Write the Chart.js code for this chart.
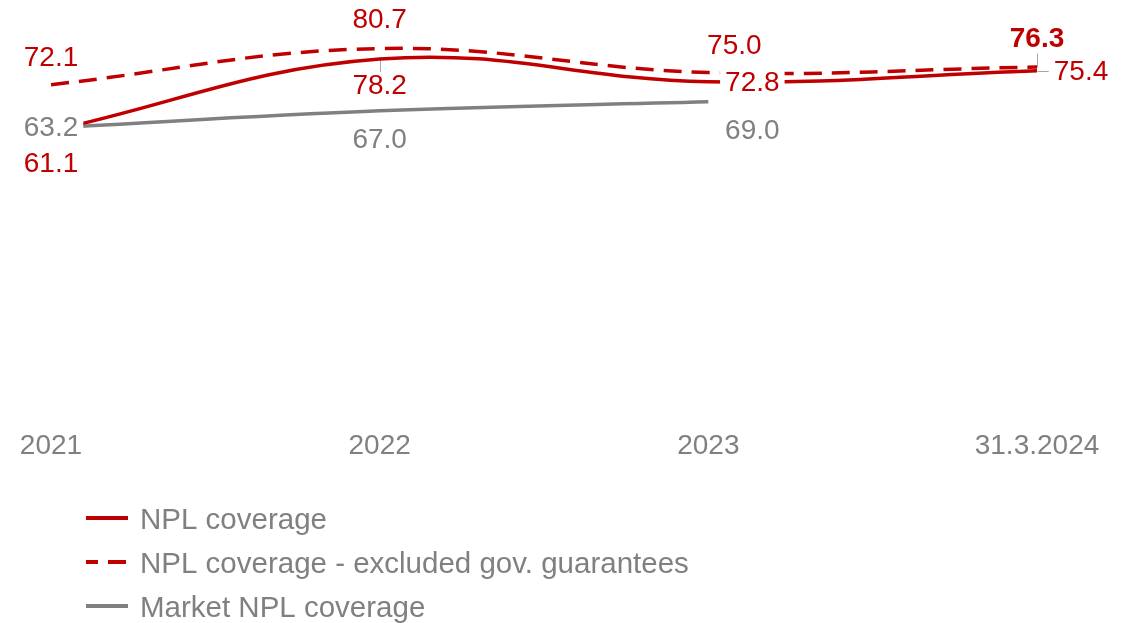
<!DOCTYPE html>
<html>
<head>
<meta charset="utf-8">
<script src="https://cdn.jsdelivr.net/npm/chart.js@4.4.1/dist/chart.umd.min.js"></script>
<style>
  html, body { margin: 0; padding: 0; background: #fff; }
</style>
</head>
<body>
<canvas id="coverageChart" width="1133" height="623"></canvas>
<script>
const years = ['2021', '2022', '2023', '31.3.2024'];
const nplCoverage = [61.1, 78.2, 72.8, 75.4];
const nplCoverageExGov = [72.1, 80.7, 75.0, 76.3];
const marketNplCoverage = [63.2, 67.0, 69.0, null];

const RED = '#c00000';
const GREY = '#808080';
const FONT = "'Liberation Sans', Arial, sans-serif";

// where each value label sits relative to its point (px), one row per dataset
const labelSpots = [
    [{ dx: 0, dy: 33 }, { dx: 0, dy: 27, leader: true }, { dx: 44, dy: 2, leader: true }, { dx: 44, dy: 1, leader: true }],
    [{ dx: 0, dy: -26 }, { dx: 0, dy: -28 }, { dx: 26, dy: -26 }, { dx: 0, dy: -28, leader: true, bold: true }],
    [{ dx: 0, dy: 0 }, { dx: 0, dy: 30 }, { dx: 44, dy: 30 }]
];

function labelBoxes(chart) {
    const ctx = chart.ctx;
    const boxes = [];
    chart.data.datasets.forEach((ds, di) => {
        const meta = chart.getDatasetMeta(di);
        meta.data.forEach((pt, i) => {
            const v = ds.data[i];
            const spot = labelSpots[di] && labelSpots[di][i];
            if (v == null || !spot) return;
            const text = v.toFixed(1);
            const font = (spot.bold ? 'bold ' : '') + '28px ' + FONT;
            ctx.save();
            ctx.font = font;
            const w = ctx.measureText(text).width;
            ctx.restore();
            const cx = pt.x + spot.dx;
            const cy = pt.y + spot.dy;
            boxes.push({
                text, font, color: ds.borderColor, cx, cy,
                px: pt.x, py: pt.y, leader: spot.leader,
                left: cx - w / 2 - 5, right: cx + w / 2 + 5,
                top: cy - 14, bottom: cy + 14
            });
        });
    });
    return boxes;
}

// value labels on white boxes, with thin leader lines back to the point
const valueLabels = {
    id: 'valueLabels',
    beforeDatasetsDraw(chart) {
        const ctx = chart.ctx;
        ctx.save();
        ctx.strokeStyle = '#a6a6a6';
        ctx.lineWidth = 1;
        labelBoxes(chart).filter(b => b.leader).forEach(b => {
            const lx = Math.min(Math.max(b.px, b.left), b.right);
            const ly = Math.min(Math.max(b.py, b.top), b.bottom);
            ctx.beginPath();
            ctx.moveTo(Math.round(b.px) + 0.5, Math.round(b.py) + 0.5);
            ctx.lineTo(Math.round(lx) + 0.5, Math.round(ly) + 0.5);
            ctx.stroke();
        });
        ctx.restore();
    },
    afterDatasetsDraw(chart) {
        const ctx = chart.ctx;
        ctx.save();
        ctx.textAlign = 'center';
        ctx.textBaseline = 'middle';
        labelBoxes(chart).forEach(b => {
            ctx.fillStyle = '#fff';
            ctx.fillRect(b.left, b.top, b.right - b.left, b.bottom - b.top);
            ctx.font = b.font;
            ctx.fillStyle = b.color;
            ctx.fillText(b.text, b.cx, b.cy);
        });
        ctx.restore();
    }
};

// legend stacked one entry per row under the axis
const stackedLegend = {
    id: 'stackedLegend',
    afterDraw(chart) {
        const ctx = chart.ctx;
        const x = 86, len = 42, textX = 140, top = 521, step = 44;
        ctx.save();
        chart.data.datasets.forEach((ds, i) => {
            const y = top + step * i;
            ctx.beginPath();
            ctx.strokeStyle = ds.borderColor;
            ctx.lineWidth = 4;
            ctx.setLineDash(ds.borderDash || []);
            ctx.lineDashOffset = ds.borderDash ? 6 : 0;
            ctx.moveTo(x, y - 3);
            ctx.lineTo(x + len, y - 3);
            ctx.stroke();
            ctx.setLineDash([]);
            ctx.font = '29.5px ' + FONT;
            ctx.fillStyle = GREY;
            ctx.textBaseline = 'middle';
            ctx.fillText(ds.label, textX, y);
        });
        ctx.restore();
    }
};

const ctx = document.getElementById('coverageChart').getContext('2d');

new Chart(ctx, {
    type: 'line',
    data: {
        labels: years,
        datasets: [
            {
                label: 'NPL coverage',
                data: nplCoverage,
                borderColor: RED,
                borderWidth: 3.5,
                yAxisID: 'y'
            },
            {
                label: 'NPL coverage - excluded gov. guarantees',
                data: nplCoverageExGov,
                borderColor: RED,
                borderDash: [18, 10],
                borderWidth: 3.5,
                yAxisID: 'y'
            },
            {
                label: 'Market NPL coverage',
                data: marketNplCoverage,
                borderColor: GREY,
                borderWidth: 3.5,
                yAxisID: 'y2'
            }
        ]
    },
    options: {
        responsive: false,
        animation: false,
        layout: { padding: { top: 9.5, left: 51, right: 96, bottom: 118 } },
        elements: {
            point: { radius: 0, hoverRadius: 0 },
            line: { tension: 0.4, fill: false, borderCapStyle: 'butt' }
        },
        plugins: {
            legend: { display: false },
            tooltip: { enabled: false }
        },
        scales: {
            x: {
                grid: { display: false, drawTicks: false },
                border: { display: false },
                ticks: {
                    color: GREY,
                    font: { family: FONT, size: 28 },
                    padding: 42,
                    maxRotation: 0,
                    autoSkip: false
                },
                // the layout padding already leaves room for the end labels
                afterFit(scale) {
                    scale.paddingLeft = 0;
                    scale.paddingRight = 0;
                }
            },
            y: { display: false, min: 0, max: 90 },
            y2: { display: false, min: 5.5, max: 89.5 }
        }
    },
    plugins: [valueLabels, stackedLegend]
});
</script>
</body>
</html>
